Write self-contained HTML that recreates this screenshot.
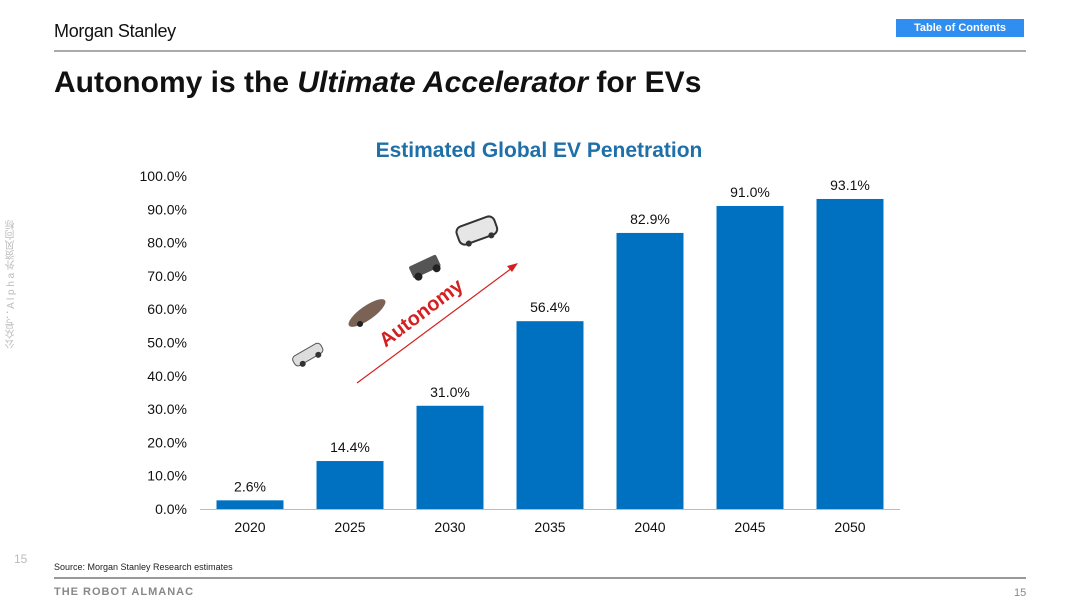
<!DOCTYPE html>
<html><head><meta charset="utf-8">
<style>
body{margin:0;width:1080px;height:608px;background:#fff;overflow:hidden;font-family:"Liberation Sans",Arial,sans-serif;position:relative}
.abs{position:absolute}
</style></head>
<body>
<div class="abs" style="left:54px;top:21px;font-size:18px;color:#111;letter-spacing:-0.3px">Morgan Stanley</div>
<div class="abs" style="left:896px;top:19px;width:128px;height:18px;background:#2f8ef0;color:#fff;font-size:11px;font-weight:bold;text-align:center;line-height:18px">Table of Contents</div>
<div class="abs" style="left:54px;top:50px;width:972px;height:2px;background:#aaa"></div>
<div class="abs" style="left:54px;top:66px;font-size:30px;font-weight:bold;color:#111">Autonomy is the <i>Ultimate Accelerator</i> for EVs</div>
<div class="abs" style="left:4px;top:220px;width:14px;font-size:10px;color:#bbb;writing-mode:vertical-rl;transform:rotate(180deg);font-family:'Liberation Sans','Noto Sans CJK SC',sans-serif">公众号：A l p h a 外资风向标</div>
<div class="abs" style="left:14px;top:552px;font-size:12px;color:#bbb">15</div>
<div class="abs" style="left:54px;top:562px;font-size:9px;color:#222">Source: Morgan Stanley Research estimates</div>
<div class="abs" style="left:54px;top:577px;width:972px;height:2px;background:#999"></div>
<div class="abs" style="left:54px;top:586px;font-size:11px;font-weight:bold;color:#888;letter-spacing:1px">THE ROBOT ALMANAC</div>
<div class="abs" style="left:1014px;top:587px;font-size:11px;color:#888">15</div>

<svg class="abs" style="left:0;top:0" width="1080" height="608">
<text x="539" y="157" text-anchor="middle" font-size="21" font-weight="bold" fill="#1f6fa8">Estimated Global EV Penetration</text>
<g id="yaxis"></g><g id="bars"></g><g id="xaxis"></g>
<line x1="357" y1="383" x2="512" y2="268" stroke="#d42020" stroke-width="1.2"/>
<polygon points="518,263 507,266 512,272" fill="#d42020"/>
<text x="0" y="0" transform="translate(425,318) rotate(-37)" text-anchor="middle" font-size="20" font-weight="bold" fill="#d42020">Autonomy</text>
<g transform="translate(308,355) rotate(-30)"><rect x="-16" y="-6" width="32" height="11" rx="4" fill="#ddd" stroke="#555"/><circle cx="-9" cy="5" r="3" fill="#333"/><circle cx="9" cy="5" r="3" fill="#333"/></g>
<g transform="translate(367,313) rotate(-35)"><ellipse cx="0" cy="0" rx="22" ry="7" fill="#7a6354"/><circle cx="-12" cy="5" r="3" fill="#222"/></g>
<g transform="translate(425,267) rotate(-25)"><rect x="-15" y="-7" width="30" height="13" rx="2" fill="#555"/><circle cx="-10" cy="6" r="4" fill="#222"/><circle cx="10" cy="6" r="4" fill="#222"/></g>
<g transform="translate(477,231) rotate(-20)"><rect x="-20" y="-10" width="40" height="19" rx="6" fill="#e6e6e6" stroke="#333" stroke-width="2"/><circle cx="-12" cy="9" r="3" fill="#333"/><circle cx="12" cy="9" r="3" fill="#333"/></g>
</svg>
<script>
const categories=["2020","2025","2030","2035","2040","2045","2050"];
const values=[2.6,14.4,31.0,56.4,82.9,91.0,93.1];
const valueLabels=["2.6%","14.4%","31.0%","56.4%","82.9%","91.0%","93.1%"];
const yTicks=[0,10,20,30,40,50,60,70,80,90,100];
const ns="http://www.w3.org/2000/svg";
const y0=509,y1=176,xStart=200,step=100,bw=67;
function yS(v){return y0-(v/100)*(y0-y1);}
function xS(i){return xStart+step*(i+0.5);}
function mk(t,a,p){const e=document.createElementNS(ns,t);for(const k in a)e.setAttribute(k,a[k]);p.appendChild(e);return e;}
const ya=document.getElementById('yaxis'),ba=document.getElementById('bars'),xa=document.getElementById('xaxis');
yTicks.forEach(v=>{const t=mk('text',{x:187,y:yS(v)+5,'text-anchor':'end','font-size':14,fill:'#111'},ya);t.textContent=v.toFixed(1)+'%';

});
values.forEach((v,i)=>{const r=mk('rect',{x:xS(i)-bw/2,y:yS(v),width:bw,height:y0-yS(v),fill:'#0070c0'},ba);


const l=mk('text',{x:xS(i),y:yS(v)-9,'text-anchor':'middle','font-size':14,fill:'#111'},ba);l.textContent=valueLabels[i];


const c=mk('text',{x:xS(i),y:532,'text-anchor':'middle','font-size':14,fill:'#111'},xa);c.textContent=categories[i];

});
const ax=mk('line',{x1:xStart,y1:y0+0.5,x2:xStart+step*categories.length,y2:y0+0.5,stroke:'#bbb'},xa);


</script>
</body></html>
